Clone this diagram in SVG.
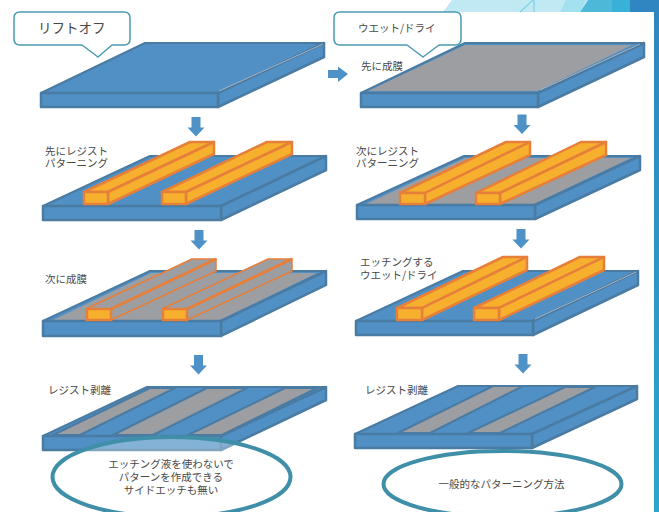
<svg xmlns="http://www.w3.org/2000/svg" width="659" height="512" viewBox="0 0 659 512">
<style>
text{font-family:"Noto Sans CJK JP","Noto Sans",sans-serif;fill:#484848;font-size:10.5px}
.b{fill:#5090c5;stroke:#4a7ba3;stroke-width:2.500;stroke-linejoin:round}
.t{fill:#5090c5;stroke:#4a7ba3;stroke-width:2;stroke-linejoin:round}
.g{fill:#9c9ea2;stroke:#4a7ba3;stroke-width:2;stroke-linejoin:round}
.o{fill:#f6b02e;stroke:#e67f3a;stroke-width:2.500;stroke-linejoin:round}
.og{fill:#9c9ea2;stroke:#e67f3a;stroke-width:1.500;stroke-linejoin:round}
.ol{fill:none;stroke:#e67f3a;stroke-width:3}
.s{fill:none;stroke:#a9b4bd;stroke-width:1}
.c{fill:#fff;stroke:#4a9ab0;stroke-width:1.500;stroke-linejoin:round}
.e{fill:#fff;fill-opacity:.3;stroke:#3f8fa8;stroke-width:4}
.m{text-anchor:middle}
</style>
<defs>
<linearGradient id="strip" x1="0" y1="0" x2="0" y2="1"><stop offset="0" stop-color="#2f86c0"/><stop offset="1" stop-color="#2ba6cc"/></linearGradient>
<path id="ad" d="M-4.500 0H4.500V10.500H8.500L0 19.500L-8.500 10.500H-4.500Z" fill="#4f92c8"/>
</defs>
<rect width="659" height="512" fill="#fff"/>
<g id="background">
<polygon points="443,12 452,0 588,0 580,12" fill="#c0e9f3"/>
<polygon points="560,12 566,0 586,0 580,12" fill="#a4e1f0"/>
<polygon points="580,12 588,0 612,0 612,12" fill="#4db8d8"/>
<rect x="612" width="18" height="12" fill="#38b0d8"/>
<rect x="630" width="29" height="12" fill="#2f86c0"/>
<path d="M520 12L533 0M534 0V12" stroke="#7fd3ea" stroke-width="1.200" fill="none"/>
<rect x="654" y="0" width="5" height="512" fill="url(#strip)"/>
</g>

<g id="slab-left-1">
<polygon class="t" points="41,93 145,43 324,43 218,93"/>
<polygon class="b" points="218,93 324,43 324,57 218,107"/>
<rect class="b" x="41" y="93" width="177" height="14"/>
<path class="s" d="M219 91L323 44"/>
</g>
<g id="slab-left-2">
<polygon class="t" points="43,206 150,156 326,156 221,206"/>
<polygon class="b" points="221,206 326,156 326,170 221,220"/>
<rect class="b" x="43" y="206" width="178" height="14"/>
<polygon class="o" points="84,192 190,142 214,142 108,192"/>
<polygon class="o" points="108,192 214,142 214,154 108,204"/>
<rect class="o" x="84" y="192" width="24" height="12"/>
<polygon class="o" points="162,192 267,142 292,142 186,192"/>
<polygon class="o" points="186,192 292,142 292,154 186,204"/>
<rect class="o" x="162" y="192" width="24" height="12"/>
</g>
<g id="slab-left-3">
<polygon class="t" points="43,321 150,271 326,271 221,321"/>
<polygon class="g" points="53,320 151,273 317,273 220,320" style="stroke:none"/>
<polygon class="b" points="221,321 326,271 326,285 221,336"/>
<rect class="b" x="43" y="321" width="178" height="15"/>
<polygon class="og" points="86,309 192,259 216,259 111,309"/>
<polygon class="og" points="111,309 216,259 216,271 111,320"/>
<path class="ol" d="M111 309L216 259"/>
<rect x="87" y="309" width="24" height="11" fill="#f6b02e" stroke="#e67f3a" stroke-width="2.500"/>
<polygon class="og" points="162,309 268,259 292,259 187,309"/>
<polygon class="og" points="187,309 292,259 292,271 187,320"/>
<path class="ol" d="M187 309L292 259"/>
<rect x="163" y="309" width="24" height="11" fill="#f6b02e" stroke="#e67f3a" stroke-width="2.500"/>
</g>
<g id="slab-left-4">
<polygon class="t" points="43,436 147,387 326,387 221,436"/>
<polygon class="g" points="53,435 150,388 175,388 80,435"/>
<polygon class="g" points="113,435 207,388 247,388 153,435"/>
<polygon class="g" points="188,435 285,388 317,388 222,435"/>
<polygon class="b" points="221,436 326,387 326,400 221,450"/>
<rect class="b" x="43" y="436" width="178" height="14"/>
</g>

<g id="slab-right-1">
<polygon class="t" points="361,93 465,43 644,43 538,93"/>
<polygon class="g" points="368,91 465,45 632,45 537,91" style="stroke:none"/>
<polygon class="b" points="538,93 644,43 644,57 538,107"/>
<rect class="b" x="361" y="93" width="177" height="14"/>
<path class="s" d="M540 90L640 44"/>
</g>
<g id="slab-right-2">
<polygon class="t" points="357,205 464,156 640,156 535,205"/>
<polygon class="g" points="366,204 465,158 631,158 534,204" style="stroke:none"/>
<polygon class="b" points="535,205 640,156 640,170 535,219"/>
<rect class="b" x="357" y="205" width="178" height="14"/>
<polygon class="o" points="400,193 506,142 530,142 425,193"/>
<polygon class="o" points="425,193 530,142 530,155 425,204"/>
<rect class="o" x="400" y="193" width="25" height="11"/>
<polygon class="o" points="476,193 581,142 606,142 500,193"/>
<polygon class="o" points="500,193 606,142 606,155 500,204"/>
<rect class="o" x="476" y="193" width="24" height="11"/>
</g>
<g id="slab-right-3">
<polygon class="t" points="356,321 463,271 638,271 533,321"/>
<polygon class="b" points="533,321 638,271 638,285 533,335"/>
<rect class="b" x="356" y="321" width="177" height="14"/>
<path class="s" d="M535 319L636 272"/>
<polygon class="o" points="397,308 503,257 527,257 422,308"/>
<polygon class="o" points="422,308 527,257 527,270 422,320"/>
<rect class="o" x="397" y="308" width="25" height="12"/>
<polygon class="o" points="474,308 580,257 604,257 499,308"/>
<polygon class="o" points="499,308 604,257 604,270 499,320"/>
<rect class="o" x="474" y="308" width="25" height="12"/>
</g>
<g id="slab-right-4">
<polygon class="t" points="355,434 458,386 637,386 532,434"/>
<polygon class="g" points="398,433 493,386 523,386 430,433"/>
<polygon class="g" points="468,433 565,387 595,387 500,433"/>
<polygon class="b" points="532,434 637,386 637,399 532,448"/>
<rect class="b" x="355" y="434" width="177" height="14"/>
</g>

<g id="connectors">
<use href="#ad" x="196" y="117"/>
<use href="#ad" x="199" y="230"/>
<use href="#ad" x="198.500" y="355"/>
<use href="#ad" x="522" y="114.500"/>
<use href="#ad" x="521" y="229"/>
<use href="#ad" x="523" y="354"/>
<path d="M328 70H338V66.500L348 74L338 82V78H328Z" fill="#4f92c8"/>
</g>

<g id="callout-liftoff">
<path class="c" d="M20 12H124Q130 12 130 18V39Q130 45 124 45H112L98 57L82 45H20Q14 45 14 39V18Q14 12 20 12Z"/>
<text x="38" y="33" style="font-size:13.500px">リフトオフ</text>
</g>
<g id="callout-wet-dry">
<path class="c" d="M340 12H455Q461 12 461 18V39Q461 45 455 45H439L423 57L407 45H340Q334 45 334 39V18Q334 12 340 12Z"/>
<text x="358" y="32">ウエット/ドライ</text>
</g>

<g id="labels">
<text x="361" y="70">先に成膜</text>
<text x="45" y="155">先にレジスト</text>
<text x="45" y="167">パターニング</text>
<text x="356" y="155">次にレジスト</text>
<text x="356" y="167">パターニング</text>
<text x="45" y="283">次に成膜</text>
<text x="360" y="266">エッチングする</text>
<text x="360" y="279">ウエット/ドライ</text>
<text x="48" y="394">レジスト剥離</text>
<text x="365" y="394">レジスト剥離</text>
</g>

<g id="ellipse-left">
<ellipse class="e" cx="171.500" cy="477" rx="119" ry="40"/>
<text class="m" x="171" y="468">エッチング液を使わないで</text>
<text class="m" x="171" y="481">パターンを作成できる</text>
<text class="m" x="171" y="494">サイドエッチも無い</text>
</g>
<g id="ellipse-right">
<ellipse class="e" cx="502.500" cy="484" rx="119" ry="33"/>
<text class="m" x="501.500" y="488">一般的なパターニング方法</text>
</g>
</svg>
